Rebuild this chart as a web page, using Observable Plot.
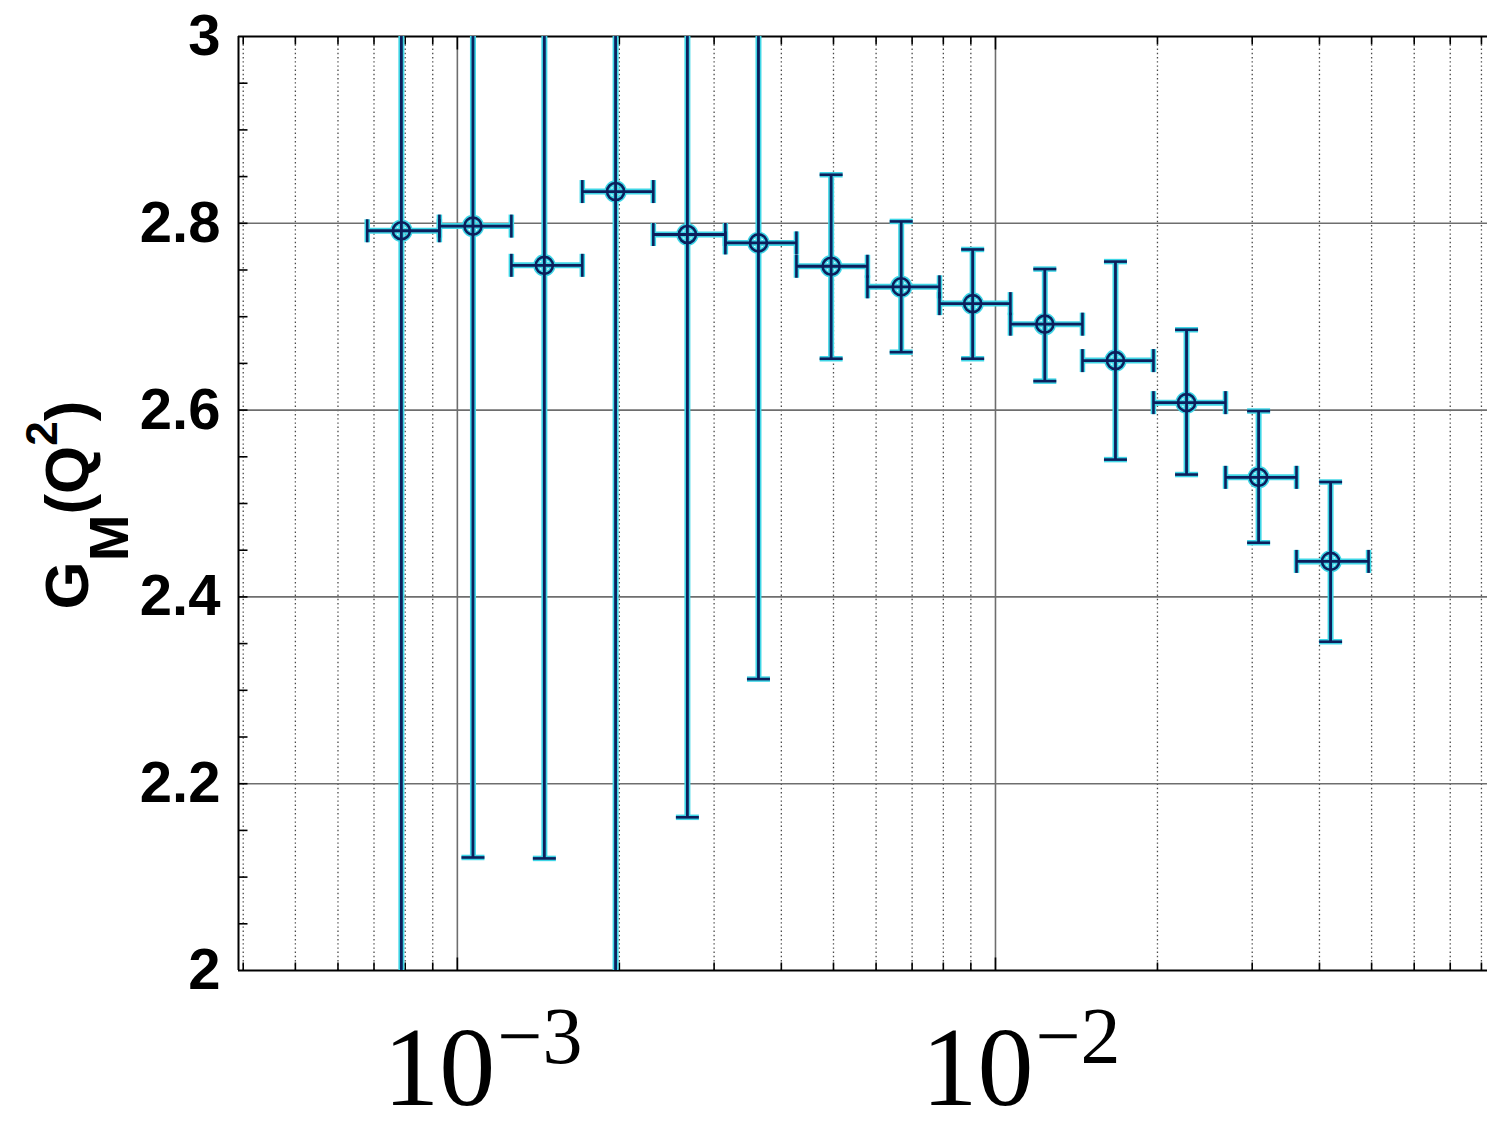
<!DOCTYPE html>
<html>
<head>
<meta charset="utf-8">
<script src="https://cdn.jsdelivr.net/npm/d3@7"></script>
<script src="https://cdn.jsdelivr.net/npm/@observablehq/plot@0.6"></script>
<style>
  html, body { margin: 0; padding: 0; background: white; }
  #chart svg { display: block; }
</style>
</head>
<body>
<div id="chart"></div>
<script>
// ---- data ----
const qCenter = [7.87e-4, 1.069e-3, 1.451e-3, 1.968e-3, 2.676e-3, 3.627e-3, 4.95e-3, 6.68e-3, 9.07e-3, 1.235e-2, 1.671e-2, 2.265e-2, 3.083e-2, 4.195e-2];
const qLow    = [6.80e-4, 9.26e-4, 1.26e-3, 1.707e-3, 2.313e-3, 3.148e-3, 4.267e-3, 5.782e-3, 7.869e-3, 1.066e-2, 1.451e-2, 1.966e-2, 2.676e-2, 3.626e-2];
const qHigh   = [9.26e-4, 1.26e-3, 1.707e-3, 2.313e-3, 3.148e-3, 4.267e-3, 5.782e-3, 7.869e-3, 1.066e-2, 1.451e-2, 1.966e-2, 2.676e-2, 3.626e-2, 4.935e-2];
const gm      = [2.792, 2.797, 2.755, 2.834, 2.788, 2.779, 2.754, 2.732, 2.714, 2.692, 2.653, 2.608, 2.528, 2.438];
const gmLow   = [1.75, 2.121, 2.120, 1.70, 2.164, 2.312, 2.655, 2.662, 2.655, 2.631, 2.547, 2.531, 2.458, 2.352];
const gmHigh  = [3.83, 3.47, 3.39, 3.97, 3.41, 3.246, 2.852, 2.802, 2.772, 2.751, 2.759, 2.686, 2.599, 2.523];

const xDomain = [3.92e-4, 8.21e-2];
const yDomain = [2, 3];
const yMajor = [2, 2.2, 2.4, 2.6, 2.8, 3];
const yTickLabels = ["2", "2.2", "2.4", "2.6", "2.8", "3"];
const yGrid = [2.2, 2.4, 2.6, 2.8];
const yMinor = [2.05, 2.1, 2.15, 2.2, 2.25, 2.3, 2.35, 2.4, 2.45, 2.5, 2.55, 2.6, 2.65, 2.7, 2.75, 2.8, 2.85, 2.9, 2.95];
const xDecades = [1e-3, 1e-2];
const xMinor = [4e-4, 5e-4, 6e-4, 7e-4, 8e-4, 9e-4, 2e-3, 3e-3, 4e-3, 5e-3, 6e-3, 7e-3, 8e-3, 9e-3, 2e-2, 3e-2, 4e-2, 5e-2, 6e-2, 7e-2, 8e-2];
const xBaseLabels = ["10", "10"];
const xExpLabels = ["\u22123", "\u22122"];

const points = qCenter.map((q, i) => ({q, lo: qLow[i], hi: qHigh[i], g: gm[i], glo: gmLow[i], ghi: gmHigh[i]}));

// custom line symbols for caps and ticks
const rOf = size => Math.sqrt(size / Math.PI);
const hCap = {draw(c, s) { const r = rOf(s); c.moveTo(-r, 0); c.lineTo(r, 0); }};
const vCap = {draw(c, s) { const r = rOf(s); c.moveTo(0, -r); c.lineTo(0, r); }};
const tickRight = {draw(c, s) { const r = rOf(s); c.moveTo(0, 0); c.lineTo(r, 0); }};
const tickUp = {draw(c, s) { const r = rOf(s); c.moveTo(0, 0); c.lineTo(0, -r); }};
const tickDown = {draw(c, s) { const r = rOf(s); c.moveTo(0, 0); c.lineTo(0, r); }};

const HALO = "#3fd6e6", CORE = "#0c1f5c";

function errorMarks(stroke, w, wcap) {
  return [
    Plot.link(points, {x1: "q", x2: "q", y1: "glo", y2: "ghi", stroke, strokeWidth: w, clip: true}),
    Plot.link(points, {x1: "lo", x2: "hi", y1: "g", y2: "g", stroke, strokeWidth: w, clip: true}),
    Plot.dot(points, {x: "q", y: "glo", symbol: hCap, r: 11.5, stroke, strokeWidth: wcap, clip: true}),
    Plot.dot(points, {x: "q", y: "ghi", symbol: hCap, r: 11.5, stroke, strokeWidth: wcap, clip: true}),
    Plot.dot(points, {x: "lo", y: "g", symbol: vCap, r: 11.5, stroke, strokeWidth: wcap, clip: true}),
    Plot.dot(points, {x: "hi", y: "g", symbol: vCap, r: 11.5, stroke, strokeWidth: wcap, clip: true}),
    Plot.dot(points, {x: "q", y: "g", r: 8.5, stroke, strokeWidth: wcap, fill: "none"})
  ];
}

const chart = Plot.plot({
  width: 1487,
  height: 1130,
  marginLeft: 238,
  marginRight: 0,
  marginTop: 36,
  marginBottom: 160,
  style: {background: "white", fontFamily: "'Liberation Sans', Arial, sans-serif"},
  x: {type: "log", domain: xDomain, axis: null},
  y: {domain: yDomain, axis: null},
  marks: [
    // grid
    Plot.ruleX(xMinor, {stroke: "#4a4a4a", strokeWidth: 1.3, strokeDasharray: "1.4,2.8"}),
    Plot.ruleX(xDecades, {stroke: "#6e6e6e", strokeWidth: 1.6}),
    Plot.ruleY(yGrid, {stroke: "#6e6e6e", strokeWidth: 1.6}),
    // inner tick marks
    Plot.dot(yMinor, {y: d => d, frameAnchor: "left", symbol: tickRight, r: 9, stroke: "black", strokeWidth: 1.6}),
    Plot.dot(xMinor, {x: d => d, frameAnchor: "bottom", symbol: tickUp, r: 8, stroke: "black", strokeWidth: 1.6}),
    Plot.dot(xMinor, {x: d => d, frameAnchor: "top", symbol: tickDown, r: 8, stroke: "black", strokeWidth: 1.6}),
    Plot.dot(xDecades, {x: d => d, frameAnchor: "bottom", symbol: tickUp, r: 13, stroke: "black", strokeWidth: 1.6}),
    Plot.dot(xDecades, {x: d => d, frameAnchor: "top", symbol: tickDown, r: 13, stroke: "black", strokeWidth: 1.6}),
    // frame (left, bottom, top)
    Plot.ruleX([xDomain[0]], {stroke: "black", strokeWidth: 2}),
    Plot.ruleY([yDomain[0], yDomain[1]], {stroke: "black", strokeWidth: 2}),
    // data: halo then core
    ...errorMarks(HALO, 6, 5.5),
    ...errorMarks(CORE, 2.8, 2.6),
    // y tick labels
    Plot.axisY(yMajor, {
      tickSize: 0, tickPadding: 18,
      tickFormat: d => yTickLabels[yMajor.indexOf(d)],
      fontSize: 58, fontWeight: "bold", fill: "black"
    }),
    // x tick labels 10^-3, 10^-2
    Plot.text(xDecades, {x: d => d, text: (d, i) => xBaseLabels[i], frameAnchor: "bottom", lineAnchor: "bottom",
      textAnchor: "start", dx: -74, dy: 134, fontSize: 112, fontFamily: "'Liberation Serif', 'Times New Roman', serif", fill: "black"}),
    Plot.text(xDecades, {x: d => d, text: (d, i) => xExpLabels[i], frameAnchor: "bottom", lineAnchor: "bottom",
      textAnchor: "start", dx: 40, dy: 92, fontSize: 80, fontFamily: "'Liberation Serif', 'Times New Roman', serif", fill: "black"})
  ]
});

document.getElementById("chart").appendChild(chart);

// y axis title G_M(Q^2)
const svg = d3.select(chart);
const t = svg.append("text")
  .attr("transform", "translate(88,505) rotate(-90)")
  .attr("text-anchor", "middle")
  .attr("font-family", "'Liberation Sans', Arial, sans-serif")
  .attr("font-weight", "bold")
  .attr("font-size", 62)
  .attr("fill", "black");
t.append("tspan").text("G");
t.append("tspan").attr("dy", 40).attr("font-size", 56).text("M");
t.append("tspan").attr("dy", -40).text("(Q");
t.append("tspan").attr("dy", -31).attr("font-size", 44).text("2");
t.append("tspan").attr("dy", 31).text(")");
</script>
</body>
</html>
